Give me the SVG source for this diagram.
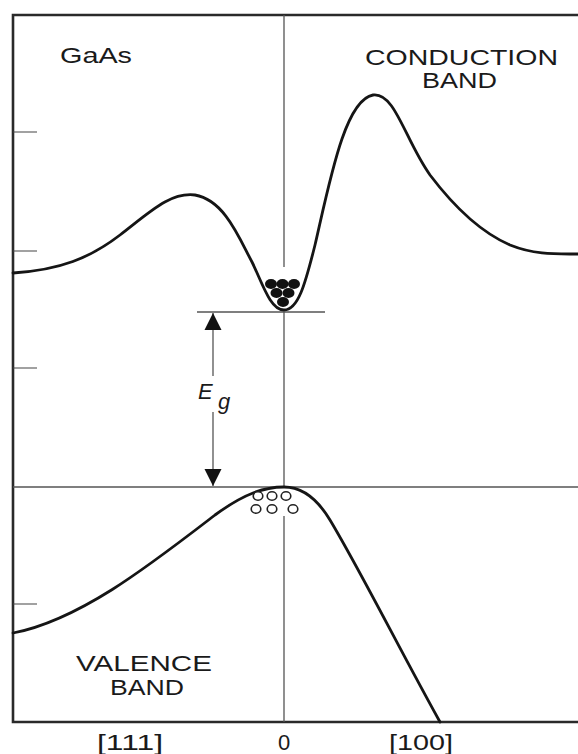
<svg xmlns="http://www.w3.org/2000/svg" width="578" height="754" viewBox="0 0 578 754">
<defs>
<style>
.frame{stroke:#2a2a2a;stroke-width:2.6;fill:none}
.tick{stroke:#444;stroke-width:1.2;fill:none}
.thin{stroke:#555;stroke-width:1.3;fill:none}
.band{stroke:#151515;stroke-width:2.8;fill:none;stroke-linejoin:round;stroke-linecap:round}
.lbl{font-family:"Liberation Sans",Arial,sans-serif;fill:#1a1a1a;font-size:22px}
.e{fill:#111}
.h{fill:#fff;stroke:#222;stroke-width:1.6}
</style>
<marker id="ah" viewBox="0 0 10 10" refX="10" refY="5" markerWidth="17" markerHeight="24" markerUnits="userSpaceOnUse" orient="auto">
<path d="M0,0 L10,5 L0,10 Z" fill="#111"/>
</marker>
</defs>
<rect width="578" height="754" fill="#fff"/>
<g id="axes">
<path class="frame" d="M578,15 H13 V722 H578"/>
<path class="tick" d="M13,132 H37 M13,251 H37 M13,368 H37 M13,604 H37"/>
</g>
<g id="reference-lines">
<path class="thin" d="M284,15 V267 M284,312 V487 M284,516 V722"/>
<path class="thin" d="M197,312 H325"/>
<path class="thin" d="M13,487 H578"/>
</g>
<g id="conduction-band">
<path class="band" d="M13,273 C60,270 90,258 120,235 C150,212 170,192 195,195 C225,200 240,240 252,262 C262,282 270,310 284,310 C298,310 305,285 315,245 C330,180 345,100 373,95 C395,92 405,140 430,175 C455,208 480,232 510,245 C535,255 555,254 578,254"/>
<ellipse class="e" cx="271" cy="284" rx="6" ry="4.9"/>
<ellipse class="e" cx="282.5" cy="284" rx="6" ry="4.9"/>
<ellipse class="e" cx="294" cy="284" rx="6" ry="4.9"/>
<ellipse class="e" cx="276.5" cy="293" rx="6" ry="4.9"/>
<ellipse class="e" cx="288.5" cy="293" rx="6" ry="4.9"/>
<ellipse class="e" cx="283" cy="302" rx="6" ry="4.9"/>
</g>
<g id="valence-band">
<path class="band" d="M13,633 C80,620 150,565 215,515 C245,493 265,487 284,487 C300,487 315,495 330,520 C360,570 400,650 440,722"/>
<ellipse class="h" cx="258" cy="496" rx="4.8" ry="4.2"/>
<ellipse class="h" cx="272" cy="496" rx="4.8" ry="4.2"/>
<ellipse class="h" cx="286" cy="496" rx="4.8" ry="4.2"/>
<ellipse class="h" cx="256" cy="509" rx="4.8" ry="4.2"/>
<ellipse class="h" cx="272" cy="509" rx="4.8" ry="4.2"/>
<ellipse class="h" cx="293" cy="509" rx="4.8" ry="4.2"/>
</g>
<g id="connectors">
<path class="thin" d="M213,376 V313" marker-end="url(#ah)"/>
<path class="thin" d="M213,412 V486" marker-end="url(#ah)"/>
</g>
<g id="eg-label">
<text class="lbl" x="198" y="399" font-style="italic" font-size="26">E</text>
<text class="lbl" x="218" y="409" font-style="italic" font-size="24">g</text>
</g>
<g id="labels">
<text class="lbl" x="60" y="63" font-size="24" textLength="72" lengthAdjust="spacingAndGlyphs">GaAs</text>
<text class="lbl" x="365" y="65" textLength="193" lengthAdjust="spacingAndGlyphs">CONDUCTION</text>
<text class="lbl" x="422" y="88" textLength="75" lengthAdjust="spacingAndGlyphs">BAND</text>
<text class="lbl" x="76" y="671" textLength="136" lengthAdjust="spacingAndGlyphs">VALENCE</text>
<text class="lbl" x="110" y="695" textLength="74" lengthAdjust="spacingAndGlyphs">BAND</text>
<text class="lbl" x="97" y="750" font-size="24" textLength="66" lengthAdjust="spacingAndGlyphs">[111]</text>
<text class="lbl" x="284" y="750" font-size="24" text-anchor="middle">0</text>
<text class="lbl" x="389" y="750" font-size="24" textLength="64" lengthAdjust="spacingAndGlyphs">[100]</text>
</g>
</svg>
